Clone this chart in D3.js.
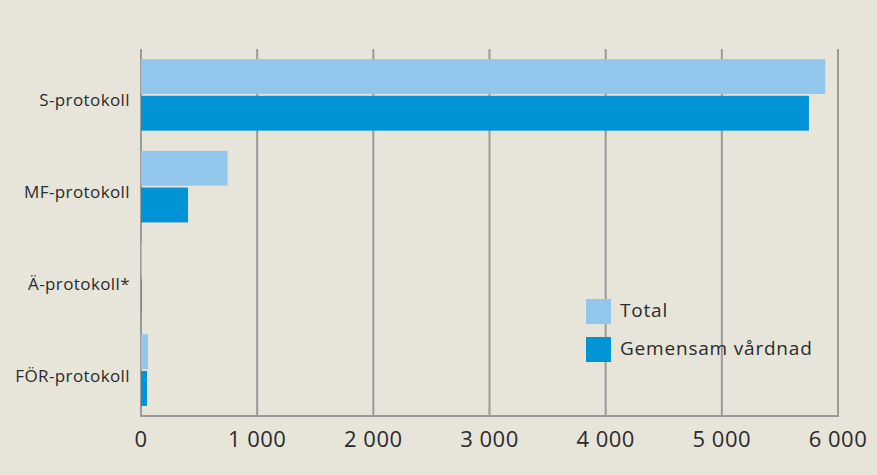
<!DOCTYPE html>
<html>
<head>
<meta charset="utf-8">
<script src="https://cdn.jsdelivr.net/npm/d3@7"></script>
<style>
  body { margin: 0; background: #e7e4da; }
  text { font-family: "Open Sans", "Noto Sans", sans-serif; fill: #2b2b2b; }
</style>
</head>
<body>
<div id="chart"></div>
<script>
// data
var categories = ["S-protokoll", "MF-protokoll", "Ä-protokoll*", "FÖR-protokoll"];
var seriesNames = ["Total", "Gemensam vårdnad"];
var totalValues = [5890, 745, 8, 60];
var gemensamValues = [5750, 405, 4, 52];
var xTicks = [0, 1000, 2000, 3000, 4000, 5000, 6000];
var colors = ["#92c6ec", "#0093d6"];

var W = 877, H = 475;
var margin = { top: 49, right: 39, bottom: 59, left: 141 },
    width = W - margin.left - margin.right,
    height = H - margin.top - margin.bottom;

var svg = d3.select("#chart")
    .append("svg")
    .attr("width", W)
    .attr("height", H)
    .style("background", "#e7e4da")
    .append("g")
    .attr("transform", "translate(" + margin.left + "," + margin.top + ")");

var rows = categories.map(function (c, i) {
    return { cat: c, values: [totalValues[i], gemensamValues[i]] };
});

var x = d3.scaleLinear().domain([0, 6000]).range([0, width]);
var y0 = d3.scaleBand().domain(categories).range([0, height])
    .paddingInner(0.22).paddingOuter(0.11);
var y1 = d3.scaleBand().domain(seriesNames).range([0, y0.bandwidth()]).paddingInner(0.05);

// grid lines
svg.selectAll(".grid")
    .data(xTicks)
    .enter()
    .append("line")
    .attr("x1", function (d) { return x(d); })
    .attr("x2", function (d) { return x(d); })
    .attr("y1", 0)
    .attr("y2", height)
    .attr("stroke", "#9a9a98")
    .attr("stroke-width", 2);

// bottom axis line
svg.append("line")
    .attr("x1", -1).attr("x2", width + 1)
    .attr("y1", height).attr("y2", height)
    .attr("stroke", "#9a9a98")
    .attr("stroke-width", 2);

// bars
var groups = svg.selectAll(".grp")
    .data(rows)
    .enter()
    .append("g")
    .attr("transform", function (d) { return "translate(0," + y0(d.cat) + ")"; });

groups.selectAll("rect")
    .data(function (d) { return d.values.map(function (v, i) { return { key: seriesNames[i], v: v, i: i }; }); })
    .enter()
    .append("rect")
    .attr("x", 0)
    .attr("y", function (d) { return y1(d.key); })
    .attr("width", function (d) { return x(d.v); })
    .attr("height", y1.bandwidth())
    .attr("fill", function (d) { return colors[d.i]; });

// category labels
svg.selectAll(".cat")
    .data(categories)
    .enter()
    .append("text")
    .attr("x", -11)
    .attr("y", function (d) { return y0(d) + y0.bandwidth() / 2 + 7; })
    .attr("text-anchor", "end")
    .attr("dominant-baseline", "middle")
    .style("font-size", "17px")
    .style("letter-spacing", "0.4px")
    .text(function (d) { return d; });

// x tick labels
var fmt = function (d) { return d === 0 ? "0" : d3.format(",")(d).replace(",", " "); };
svg.selectAll(".xt")
    .data(xTicks)
    .enter()
    .append("text")
    .attr("x", function (d) { return x(d); })
    .attr("y", height + 25)
    .attr("text-anchor", "middle")
    .attr("dominant-baseline", "middle")
    .style("font-size", "22px")
    .style("letter-spacing", "0.5px")
    .text(fmt);

// legend
var legend = svg.selectAll(".leg")
    .data(seriesNames)
    .enter()
    .append("g")
    .attr("transform", function (d, i) { return "translate(" + (586 - margin.left) + "," + (299 - margin.top + i * 38) + ")"; });

legend.append("rect")
    .attr("width", 25)
    .attr("height", 25)
    .attr("fill", function (d, i) { return colors[i]; });

legend.append("text")
    .attr("x", 34)
    .attr("y", 13)
    .attr("dominant-baseline", "middle")
    .style("font-size", "19px")
    .style("letter-spacing", "0.8px")
    .text(function (d) { return d; });
</script>
</body>
</html>
